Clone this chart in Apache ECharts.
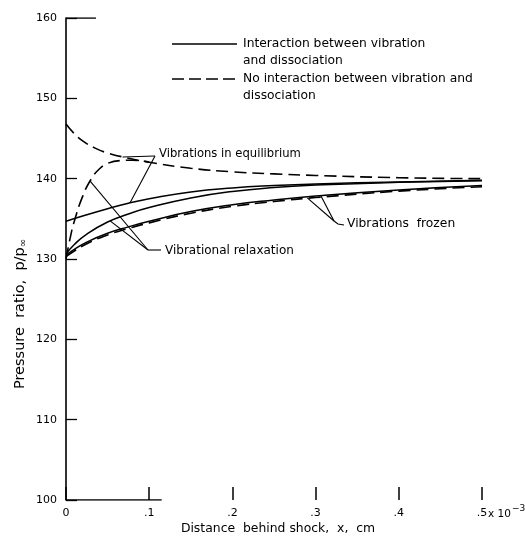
<!DOCTYPE html>
<html>
<head>
<meta charset="utf-8">
<script src="https://cdn.jsdelivr.net/npm/echarts@6/dist/echarts.min.js"></script>
<style>
html,body{margin:0;padding:0;background:#fff;}
#c{width:525px;height:537px;}
</style>
</head>
<body>
<div id="c"></div>
<script>
// ---- data (x in units of 10^-3 cm, y = pressure ratio p/p∞) ----
const xTicks = [0, 0.1, 0.2, 0.3, 0.4, 0.5];
const xTickLabels = ['0', '.1', '.2', '.3', '.4', '.5'];

// Solid: interaction between vibration and dissociation
const xSolidEq = [0, 0.025, 0.05, 0.075, 0.1, 0.15, 0.2, 0.25, 0.3, 0.4, 0.5];
const ySolidEq = [134.7, 135.5, 136.25, 136.95, 137.5, 138.35, 138.85, 139.15, 139.35, 139.6, 139.8];

const xSolidRelax = [0, 0.01, 0.025, 0.05, 0.075, 0.1, 0.15, 0.2, 0.25, 0.3, 0.4, 0.5];
const ySolidRelax = [130.6, 131.8, 133.1, 134.6, 135.6, 136.4, 137.6, 138.4, 138.9, 139.2, 139.55, 139.75];

const xSolidFrozen = [0, 0.01, 0.025, 0.05, 0.075, 0.1, 0.15, 0.2, 0.25, 0.3, 0.4, 0.5];
const ySolidFrozen = [130.5, 131.2, 132.1, 133.2, 134.0, 134.7, 135.9, 136.75, 137.35, 137.85, 138.6, 139.15];

// Dashed: no interaction between vibration and dissociation
const xDashEq = [0, 0.01, 0.02, 0.035, 0.05, 0.075, 0.1, 0.15, 0.2, 0.25, 0.3, 0.4, 0.5];
const yDashEq = [146.8, 145.6, 144.7, 143.8, 143.2, 142.55, 142.05, 141.3, 140.85, 140.6, 140.4, 140.12, 140.0];

const xDashRelax = [0, 0.005, 0.01, 0.02, 0.03, 0.04, 0.05, 0.065, 0.08, 0.1];
const yDashRelax = [130.0, 132.6, 134.7, 137.8, 139.9, 141.2, 141.9, 142.25, 142.3, 142.05];

const xDashFrozen = [0, 0.01, 0.025, 0.05, 0.075, 0.1, 0.15, 0.2, 0.25, 0.3, 0.4, 0.5];
const yDashFrozen = [130.3, 131.0, 131.9, 133.0, 133.8, 134.5, 135.7, 136.55, 137.15, 137.65, 138.45, 139.0];

// partial x-axis baseline and top corner tick (as drawn in the original)
const xBaseLine = [0, 0.115];
const yBaseLine = [100, 100];
const xTopTick = [0, 0.036];
const yTopTick = [160, 160];

// ---- build ----
const pair = (xs, ys) => xs.map((x, i) => [x, ys[i]]);
const FONT = 'DejaVu Sans';
const solid = {color: '#000', width: 1.5, type: 'solid'};
const dashed = {color: '#000', width: 1.6, type: [12, 6]};

function lineSeries(name, xs, ys, style) {
  return {
    name: name, type: 'line', data: pair(xs, ys), showSymbol: false, symbol: 'none',
    smooth: 0.5, lineStyle: style, silent: true, animation: false, z: 3
  };
}

const chart = echarts.init(document.getElementById('c'), null, {renderer: 'canvas'});
chart.setOption({
  animation: false,
  backgroundColor: '#fff',
  grid: {left: 66, right: 43, top: 18, bottom: 37},
  xAxis: {
    type: 'value', min: 0, max: 0.5, interval: 0.1,
    axisLine: {show: false},
    axisTick: {show: true, inside: true, length: 13, lineStyle: {color: '#000', width: 1.5}},
    splitLine: {show: false},
    axisLabel: {
      color: '#000', fontFamily: FONT, fontSize: 11, margin: 8,
      formatter: function (v) {
        const i = xTicks.findIndex(t => Math.abs(t - v) < 1e-9);
        return i >= 0 ? xTickLabels[i] : '';
      }
    }
  },
  yAxis: {
    type: 'value', min: 100, max: 160, interval: 10,
    axisLine: {show: true, lineStyle: {color: '#000', width: 1.6}},
    axisTick: {show: true, inside: true, length: 11, lineStyle: {color: '#000', width: 1.3}},
    splitLine: {show: false},
    axisLabel: {color: '#000', fontFamily: FONT, fontSize: 11, margin: 9}
  },
  series: [
    lineSeries('solidEq', xSolidEq, ySolidEq, solid),
    lineSeries('solidRelax', xSolidRelax, ySolidRelax, solid),
    lineSeries('solidFrozen', xSolidFrozen, ySolidFrozen, solid),
    lineSeries('dashEq', xDashEq, yDashEq, dashed),
    lineSeries('dashRelax', xDashRelax, yDashRelax, dashed),
    lineSeries('dashFrozen', xDashFrozen, yDashFrozen, dashed),
    {type: 'line', data: pair(xBaseLine, yBaseLine), symbol: 'none', lineStyle: {color: '#000', width: 1.6}, silent: true, z: 2},
    {type: 'line', data: pair(xTopTick, yTopTick), symbol: 'none', lineStyle: {color: '#000', width: 1.3}, silent: true, z: 2}
  ]
});

const P = (x, y) => chart.convertToPixel({gridIndex: 0}, [x, y]);
const txt = (x, y, text, size) => ({
  type: 'text', x: x, y: y,
  style: {text: text, fill: '#000', font: (size || 12) + 'px "' + FONT + '"', textVerticalAlign: 'middle', textAlign: 'left'}
});
const seg = (a, b, w) => ({type: 'line', shape: {x1: a[0], y1: a[1], x2: b[0], y2: b[1]}, style: {stroke: '#000', lineWidth: w || 1.1}});

// annotation anchors
const eqJoint = [155, 156];
const eqA = P(0.068, 142.7);
const eqB = P(0.077, 137.0);
const relJoint = [148, 250];
const relA = P(0.029, 139.7);
const relB = P(0.053, 134.75);
const frJoint = [334, 221];
const frA = P(0.29, 137.6);
const frB = P(0.306, 137.95);

const x0 = P(0.5, 100);

chart.setOption({
  graphic: [
    // legend
    seg([172, 44], [237, 44], 1.4),
    {type: 'line', shape: {x1: 172, y1: 79, x2: 237, y2: 79}, style: {stroke: '#000', lineWidth: 1.6, lineDash: [12, 5]}},
    txt(243, 44, 'Interaction between vibration', 12.3),
    txt(243, 61, 'and dissociation', 12.3),
    txt(243, 79, 'No interaction between vibration and', 12.3),
    txt(243, 96, 'dissociation', 12.3),
    // Vibrations in equilibrium
    txt(159, 154, 'Vibrations in equilibrium', 11.6),
    seg(eqJoint, eqA), seg(eqJoint, eqB),
    // Vibrational relaxation
    txt(165, 251, 'Vibrational relaxation', 12),
    seg(relJoint, [161, 250]), seg(relJoint, relA), seg(relJoint, relB),
    // Vibrations frozen
    txt(347, 224, 'Vibrations  frozen', 12.3),
    seg(frJoint, frA), seg(frJoint, frB),
    {type: 'polyline', shape: {points: [frJoint, [338, 224], [344, 225]]}, style: {stroke: '#000', lineWidth: 1.1, fill: null}},
    // x axis exponent
    {type: 'text', x: x0[0] + 6, y: x0[1] + 14, style: {text: 'x 10', fill: '#000', font: '10.5px "' + FONT + '"', textVerticalAlign: 'middle'}},
    {type: 'text', x: x0[0] + 30, y: x0[1] + 9, style: {text: '−3', fill: '#000', font: '9px "' + FONT + '"', textVerticalAlign: 'middle'}},
    // axis titles
    {type: 'text', x: 278, y: 529, style: {text: 'Distance  behind shock,  x,  cm', fill: '#000', font: '12.4px "' + FONT + '"', textAlign: 'center', textVerticalAlign: 'middle'}},
    {type: 'text', x: 20, y: 314, rotation: Math.PI / 2,
     style: {text: '{a|Pressure  ratio,  p/p}{b|∞}', fill: '#000', textAlign: 'center', textVerticalAlign: 'middle',
       rich: {a: {font: '14.5px "' + FONT + '"', fill: '#000'}, b: {font: '10px "' + FONT + '"', fill: '#000', padding: [6, 0, 0, 0]}}}}
  ]
});
</script>
</body>
</html>
